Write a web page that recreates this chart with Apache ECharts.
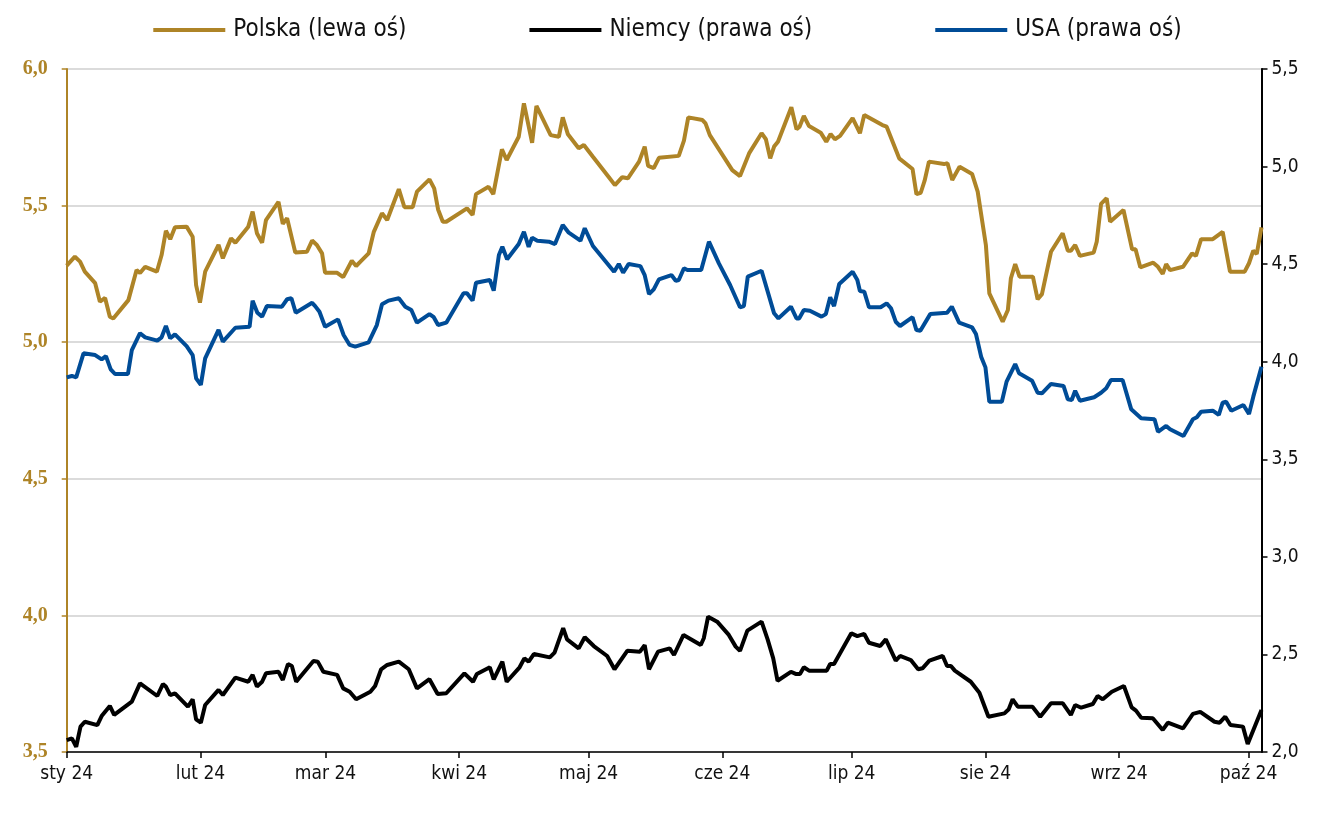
<!DOCTYPE html>
<html>
<head>
<meta charset="utf-8">
<script src="https://cdn.jsdelivr.net/npm/echarts@6/dist/echarts.min.js"></script>
<style>
html,body{margin:0;padding:0;background:#fff;}
#chart{width:1335px;height:816px;}
</style>
</head>
<body>
<div id="chart"></div>
<script>
// x = days since 1 Jan 2024
const monthStarts = [0, 31, 60, 91, 121, 152, 182, 213, 244, 274];
const monthLabels = ['sty 24', 'lut 24', 'mar 24', 'kwi 24', 'maj 24', 'cze 24', 'lip 24', 'sie 24', 'wrz 24', 'paź 24'];
const seriesNames = ['Polska (lewa oś)', 'Niemcy (prawa oś)', 'USA (prawa oś)'];

const plDays = [0,1.9,3.1,4.2,6.6,7.7,8.9,10.0,10.8,14.3,16.2,17.0,18.2,20.9,22.0,23.0,24.0,25.1,27.8,29.2,30.0,30.9,32.1,35.2,36.2,38.1,39.1,42.1,43.1,44.1,45.3,46.2,49.1,50.1,51.1,53.0,55.7,56.9,58.0,59.2,59.9,62.7,64.1,66.1,67.1,68.1,70.0,71.2,73.1,74.3,77.0,78.3,80.2,81.2,84.1,85.2,86.1,87.2,88.0,92.8,94.1,94.9,97.8,98.9,100.9,102.0,104.8,106.0,107.9,108.9,112.2,114.1,115.0,116.2,118.7,119.9,122.0,125.7,127.1,128.8,130.1,132.7,134.0,134.8,136.1,137.3,141.9,143.1,144.1,147.4,148.1,149.1,154.3,156.1,158.2,161.1,162.1,163.1,164.0,164.9,168.0,169.2,169.9,170.9,172.1,174.8,176.1,177.1,178.1,179.3,182.2,183.9,184.9,189.1,190.1,193.0,196.1,197.0,198.0,198.9,199.9,203.4,204.2,205.3,207.0,209.9,211.2,213.1,213.9,217.0,218.2,218.9,219.9,220.9,224.0,225.1,226.1,228.2,230.9,232.1,232.8,233.8,234.9,238.1,238.8,239.8,241.1,241.9,245.0,247.0,247.8,248.9,251.9,253.0,254.1,254.9,255.8,258.8,260.9,261.8,263.0,265.7,268.0,269.7,273.1,274.1,275.1,275.9,277.0];
const plVals = [5.28,5.313,5.295,5.258,5.216,5.148,5.162,5.093,5.087,5.154,5.264,5.253,5.276,5.258,5.319,5.408,5.377,5.421,5.423,5.386,5.209,5.145,5.258,5.356,5.307,5.380,5.364,5.423,5.478,5.399,5.364,5.447,5.514,5.433,5.454,5.328,5.331,5.372,5.356,5.325,5.254,5.254,5.238,5.298,5.279,5.295,5.325,5.404,5.472,5.447,5.560,5.494,5.494,5.551,5.596,5.563,5.486,5.441,5.441,5.490,5.466,5.542,5.569,5.542,5.706,5.667,5.752,5.874,5.730,5.865,5.758,5.752,5.823,5.761,5.710,5.722,5.679,5.604,5.575,5.604,5.600,5.661,5.716,5.645,5.637,5.675,5.682,5.738,5.823,5.813,5.801,5.758,5.630,5.608,5.691,5.765,5.743,5.673,5.716,5.734,5.860,5.779,5.789,5.828,5.791,5.767,5.734,5.762,5.743,5.755,5.820,5.765,5.832,5.795,5.789,5.673,5.634,5.542,5.547,5.591,5.661,5.652,5.655,5.594,5.642,5.616,5.551,5.356,5.179,5.075,5.118,5.234,5.286,5.240,5.240,5.157,5.176,5.331,5.399,5.335,5.335,5.356,5.316,5.328,5.368,5.506,5.527,5.441,5.484,5.340,5.340,5.274,5.291,5.276,5.250,5.286,5.264,5.276,5.325,5.316,5.377,5.377,5.404,5.258,5.258,5.289,5.335,5.323,5.420];

const deDays = [0,1.2,2.2,3.2,4.2,7.1,8.1,10.0,11.0,15.1,17.0,21.0,22.3,23.0,24.0,25.1,28.1,29.2,30.0,31.1,32.1,35.2,36.2,39.1,42.1,43.1,44.1,45.3,46.2,49.1,50.1,51.3,52.2,53.2,57.2,58.2,59.5,62.7,64.1,65.6,67.1,70.4,71.5,72.9,74.3,77.0,79.3,81.2,84.1,86.0,88.0,92.2,94.2,95.1,98.1,99.0,101.0,102.0,105.0,106.1,107.1,108.3,112.0,113.1,115.1,116.0,118.7,120.1,122.2,125.3,127.0,130.0,132.9,134.0,135.0,137.1,139.8,140.8,143.0,147.0,147.7,148.7,150.8,153.5,155.1,156.1,157.8,161.1,162.5,163.8,164.8,167.9,169.0,170.0,170.9,172.1,176.2,177.0,177.9,181.9,183.3,184.9,186.0,188.6,189.9,192.2,193.2,195.7,197.4,198.4,200.0,203.1,204.1,205.0,205.9,209.6,211.6,213.7,217.4,218.4,219.3,220.5,223.9,225.7,228.2,230.9,232.8,233.8,235.2,237.9,239.0,240.2,242.3,245.1,246.9,247.9,249.1,251.8,254.1,255.3,258.8,261.1,262.8,266.1,267.3,268.6,269.8,272.7,273.8,277.0];
const deVals = [2.061,2.070,2.027,2.130,2.155,2.138,2.184,2.236,2.190,2.258,2.352,2.287,2.348,2.335,2.292,2.301,2.232,2.270,2.167,2.150,2.241,2.318,2.292,2.381,2.360,2.395,2.335,2.360,2.403,2.411,2.369,2.451,2.441,2.360,2.466,2.463,2.411,2.395,2.326,2.309,2.270,2.309,2.338,2.424,2.446,2.463,2.424,2.326,2.373,2.297,2.301,2.403,2.360,2.400,2.434,2.372,2.463,2.360,2.434,2.480,2.463,2.502,2.485,2.509,2.634,2.577,2.531,2.588,2.543,2.492,2.424,2.519,2.514,2.548,2.424,2.514,2.531,2.497,2.600,2.548,2.583,2.693,2.668,2.600,2.540,2.518,2.622,2.668,2.577,2.480,2.365,2.411,2.400,2.400,2.434,2.417,2.417,2.451,2.451,2.608,2.594,2.605,2.560,2.543,2.577,2.468,2.492,2.471,2.424,2.429,2.468,2.492,2.441,2.441,2.417,2.360,2.304,2.181,2.198,2.219,2.270,2.232,2.232,2.181,2.250,2.250,2.190,2.241,2.227,2.246,2.287,2.270,2.309,2.338,2.229,2.212,2.176,2.173,2.113,2.150,2.121,2.195,2.206,2.155,2.150,2.181,2.138,2.130,2.041,2.215];

const usDays = [0,1.2,2.2,3.9,6.6,8.1,9.1,10.2,11.2,14.2,15.1,17.0,18.2,21.0,22.0,23.0,24.0,25.1,27.8,29.2,30.0,31.1,32.1,35.2,36.2,39.1,42.4,43.1,44.2,45.3,46.4,49.9,51.1,52.1,53.1,56.9,57.6,58.6,59.9,62.9,64.2,65.6,66.9,70.0,71.9,73.1,74.6,77.0,78.5,79.9,81.2,84.1,85.1,86.1,88.0,92.0,92.8,94.1,94.9,98.1,99.0,100.2,101.0,102.1,104.8,106.0,107.1,107.9,109.1,111.8,113.2,115.0,116.4,119.1,120.1,122.0,126.9,128.0,129.0,130.3,133.0,134.0,135.0,136.1,137.3,140.2,141.2,141.9,143.1,143.9,147.1,148.9,151.2,153.8,156.1,157.0,157.9,161.1,164.0,165.0,167.9,169.2,169.8,170.9,172.3,175.0,176.0,177.0,177.9,179.1,182.2,183.3,183.9,184.9,186.0,188.7,190.1,191.1,192.2,193.2,196.1,197.0,197.9,200.2,204.1,205.2,206.9,209.9,210.8,212.0,213.0,213.9,216.8,217.9,219.9,220.8,223.8,225.1,226.1,228.2,231.1,232.1,233.0,233.8,234.9,238.2,239.8,241.0,242.1,244.8,246.8,249.1,252.2,253.0,254.9,255.8,258.9,261.1,262.0,263.0,265.7,267.1,268.0,268.8,270.0,272.8,274.1,275.1,277.0];
const usVals = [3.920,3.927,3.920,4.043,4.034,4.012,4.029,3.961,3.937,3.937,4.060,4.146,4.125,4.108,4.125,4.183,4.120,4.140,4.080,4.034,3.915,3.881,4.017,4.163,4.103,4.174,4.179,4.313,4.251,4.231,4.285,4.282,4.320,4.325,4.251,4.302,4.285,4.256,4.179,4.217,4.137,4.086,4.077,4.099,4.188,4.294,4.313,4.325,4.282,4.265,4.200,4.244,4.228,4.188,4.200,4.351,4.351,4.313,4.405,4.419,4.364,4.547,4.589,4.525,4.603,4.666,4.589,4.635,4.620,4.615,4.603,4.701,4.661,4.620,4.684,4.593,4.461,4.501,4.456,4.501,4.490,4.444,4.347,4.371,4.422,4.444,4.415,4.419,4.479,4.470,4.470,4.615,4.504,4.393,4.279,4.285,4.436,4.466,4.248,4.222,4.282,4.222,4.222,4.265,4.261,4.231,4.244,4.330,4.285,4.398,4.461,4.419,4.362,4.359,4.279,4.279,4.299,4.274,4.205,4.183,4.228,4.162,4.159,4.244,4.251,4.282,4.200,4.176,4.142,4.026,3.971,3.795,3.795,3.898,3.988,3.941,3.903,3.841,3.838,3.886,3.876,3.807,3.804,3.851,3.800,3.818,3.841,3.864,3.906,3.906,3.756,3.710,3.705,3.641,3.671,3.654,3.619,3.705,3.715,3.744,3.749,3.727,3.790,3.795,3.749,3.778,3.732,3.821,3.974];

const leftTicks = ['3,5','4,0','4,5','5,0','5,5','6,0'];
const rightTicks = ['2,0','2,5','3,0','3,5','4,0','4,5','5,0','5,5'];

const GOLD = '#AE8427';
const BLUE = '#004C97';
const FONT = '"Liberation Sans Narrow","DejaVu Sans Condensed","Liberation Sans",sans-serif';
const SERIF = '"Liberation Serif","DejaVu Serif",serif';

function zip(xs, ys){ return xs.map((x,i)=>[x, ys[i]]); }

const chart = echarts.init(document.getElementById('chart'), null, {renderer:'canvas'});
chart.setOption({
  animation: false,
  backgroundColor: '#fff',
  textStyle: {fontFamily: FONT},
  legend: {
    top: 13, left: 'center',
    itemWidth: 72, itemHeight: 4, itemGap: 123,
    icon: 'rect',
    textStyle: {fontFamily: FONT, fontSize: 24, color: '#111', padding:[0,0,0,3]},
    data: seriesNames
  },
  grid: {left: 66.7, right: 73.5, top: 69, bottom: 64, containLabel: false},
  xAxis: {
    type: 'value', min: 0, max: 277,
    axisLine: {show: true, lineStyle: {color: '#000', width: 1.5}},
    axisTick: {show: true, length: 6, customValues: monthStarts, lineStyle: {color: '#000', width: 1.5}},
    axisLabel: {
      customValues: monthStarts, margin: 13, fontSize: 19, color: '#111', fontFamily: FONT,
      formatter: v => monthLabels[monthStarts.indexOf(v)] || ''
    },
    splitLine: {show: false}
  },
  yAxis: [
    {
      type: 'value', min: 3.5, max: 6.0, interval: 0.5, position: 'left',
      axisLine: {show: true, lineStyle: {color: GOLD, width: 2}},
      axisTick: {show: true, length: 5, lineStyle: {color: GOLD, width: 1.5}},
      axisLabel: {margin: 19, fontSize: 20, color: GOLD, fontWeight: 'bold', fontFamily: SERIF,
        formatter: v => leftTicks[Math.round((v - 3.5) / 0.5)]},
      splitLine: {show: true, lineStyle: {color: '#CFCFCF', width: 1.5}}
    },
    {
      type: 'value', min: 2.0, max: 5.5, interval: 0.5, position: 'right',
      axisLine: {show: true, lineStyle: {color: '#000', width: 2}},
      axisTick: {show: true, length: 6, lineStyle: {color: '#000', width: 1.5}},
      axisLabel: {margin: 10, fontSize: 19, color: '#111', fontFamily: FONT,
        formatter: v => rightTicks[Math.round((v - 2.0) / 0.5)]},
      splitLine: {show: false}
    }
  ],
  series: [
    {name: seriesNames[0], type: 'line', yAxisIndex: 0, data: zip(plDays, plVals), showSymbol: false,
      lineStyle: {color: GOLD, width: 4}, itemStyle: {color: GOLD}},
    {name: seriesNames[1], type: 'line', yAxisIndex: 1, data: zip(deDays, deVals), showSymbol: false,
      lineStyle: {color: '#000', width: 4}, itemStyle: {color: '#000'}},
    {name: seriesNames[2], type: 'line', yAxisIndex: 1, data: zip(usDays, usVals), showSymbol: false,
      lineStyle: {color: BLUE, width: 4}, itemStyle: {color: BLUE}}
  ]
});
</script>
</body>
</html>
